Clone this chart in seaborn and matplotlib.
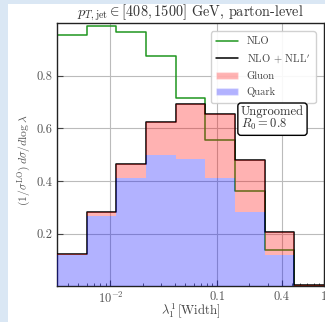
import numpy as np
import pandas as pd
import matplotlib
matplotlib.use("Agg")
import matplotlib.pyplot as plt
import seaborn as sns
from matplotlib.lines import Line2D
from matplotlib.patches import Patch, Rectangle
from matplotlib.ticker import FixedLocator, FixedFormatter, LogLocator, NullFormatter

# ---- data ----
bin_edges = [0.00316, 0.00599, 0.01136, 0.02154, 0.04084, 0.07743, 0.14678, 0.27826, 0.52749, 1.0]
nlo = [0.956, 0.989, 0.965, 0.876, 0.714, 0.557, 0.364, 0.140, 0.003]
nlo_nll = [0.123, 0.282, 0.464, 0.626, 0.694, 0.655, 0.481, 0.207, 0.005]
quark = [0.118, 0.266, 0.411, 0.498, 0.483, 0.411, 0.282, 0.120, 0.002]
x_ticks = [0.01, 0.1, 0.4, 1.0]
x_tick_labels = [r"$10^{-2}$", "0.1", "0.4", "1"]
y_ticks = [0.2, 0.4, 0.6, 0.8]
y_tick_labels = ["0.2", "0.4", "0.6", "0.8"]

sns.set_style("white")
plt.rcParams["font.family"] = ["cmr10"]
plt.rcParams["mathtext.fontset"] = "cm"
plt.rcParams["axes.formatter.use_mathtext"] = True

fig = plt.figure(figsize=(3.25, 3.22), dpi=100, facecolor="#dae7f4")
fig.patches.append(Rectangle((8 / 325, 0), 1, (322 - 4) / 322, transform=fig.transFigure,
                             facecolor="white", edgecolor="none", zorder=-10))
ax = fig.add_axes([57 / 325, 35.6 / 322, 267 / 325, 263.4 / 322])

def step_df(vals):
    return pd.DataFrame({"x": bin_edges, "y": list(vals) + [vals[-1]]})

sns.lineplot(data=step_df(nlo), x="x", y="y", drawstyle="steps-post", color="#1f961f",
             lw=1.1, estimator=None, ax=ax, zorder=2)
sns.lineplot(data=step_df(nlo_nll), x="x", y="y", drawstyle="steps-post", color="black",
             lw=1.1, estimator=None, ax=ax, zorder=3)

q_ext = np.array(quark + [quark[-1]])
t_ext = np.array(nlo_nll + [nlo_nll[-1]])
ax.fill_between(bin_edges, q_ext, t_ext, step="post", color="red", alpha=0.3, lw=0, zorder=4)
ax.fill_between(bin_edges, 0, q_ext, step="post", color="blue", alpha=0.3, lw=0, zorder=4)

ax.set_xscale("log")
ax.set_xlim(bin_edges[0], 1.0)
ax.set_ylim(0, 1.0)
ax.xaxis.set_major_locator(FixedLocator(x_ticks))
ax.xaxis.set_major_formatter(FixedFormatter(x_tick_labels))
ax.xaxis.set_minor_locator(LogLocator(base=10, subs=np.arange(2, 10)))
ax.xaxis.set_minor_formatter(NullFormatter())
ax.yaxis.set_major_locator(FixedLocator(y_ticks))
ax.yaxis.set_major_formatter(FixedFormatter(y_tick_labels))
ax.tick_params(axis="both", which="both", direction="in", labelsize=9, colors="#444444",
               labelcolor="#555555", bottom=True, left=True)
ax.tick_params(axis="x", which="major", pad=3)
ax.tick_params(which="major", length=4, width=0.8)
ax.tick_params(which="minor", length=2, width=0.6)
ax.grid(True, which="major", color="#bbbbbb", lw=0.8)
ax.set_axisbelow(True)
for s in ax.spines.values():
    s.set_color("#222222")
    s.set_linewidth(1.0)

ax.set_title(r"$p_{T,\mathrm{jet}} \in [408, 1500]$ GeV, parton-level", fontsize=10.3,
             color="#333333", pad=2)
ax.set_xlabel(r"$\lambda_1^1\,$[Width]", fontsize=9.2, color="#444444", va="center")
ax.xaxis.set_label_coords(0.5, -0.092)
ax.set_ylabel(r"$(1/\sigma^{\mathrm{LO}})\,d\sigma/d\log\lambda$", fontsize=8.4,
              color="#555555")
ax.yaxis.set_label_coords(-0.09, 0.48)

handles = [Line2D([], [], color="#1f961f", lw=1.1),
           Line2D([], [], color="black", lw=1.1),
           Patch(facecolor="red", alpha=0.3),
           Patch(facecolor="blue", alpha=0.3)]
labels = ["NLO", r"NLO + NLL$^\prime$", "Gluon", "Quark"]
leg = ax.legend(handles, labels, loc="upper right", fontsize=7.6, frameon=True,
                borderaxespad=0.8, handlelength=2.1, labelspacing=0.6, framealpha=0.9,
                borderpad=0.5)
for t in leg.get_texts():
    t.set_color("#444444")

ax.text(0.807, 0.637, "Ungroomed\n$R_0 = 0.8$", transform=ax.transAxes, fontsize=9,
        color="#333333", ha="center", va="center", linespacing=0.95, multialignment="left",
        bbox=dict(boxstyle="round,pad=0.25", fc="white", ec="black", lw=1.0), zorder=6)

fig.savefig("out.png", dpi=100, facecolor=fig.get_facecolor())
